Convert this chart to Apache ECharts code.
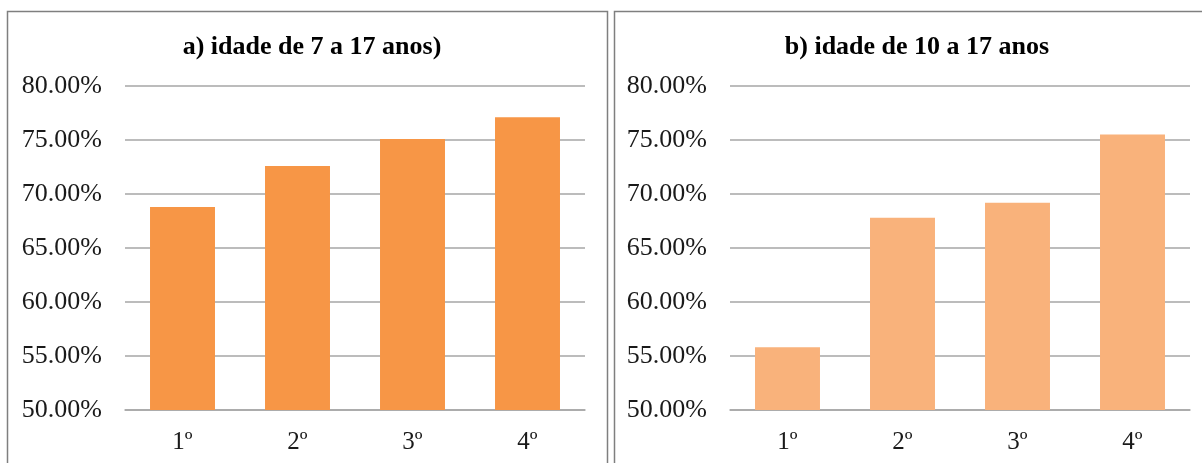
<!DOCTYPE html>
<html>
<head>
<meta charset="utf-8">
<script src="https://cdn.jsdelivr.net/npm/echarts@6/dist/echarts.min.js"></script>
<style>
  html, body { margin: 0; padding: 0; background: #fff; }
  #chart { width: 1202px; height: 463px; }
</style>
</head>
<body>
<div id="chart"></div>
<script>
// School grade categories
const categories = ['1º', '2º', '3º', '4º'];
// Percentages per grade, ages 7–17 (panel a) and 10–17 (panel b)
const valuesA = [68.8, 72.6, 75.1, 77.1];
const valuesB = [55.8, 67.8, 69.2, 75.5];
const titleA = 'a) idade de 7 a 17 anos)';
const titleB = 'b) idade de 10 a 17 anos';

const serif = '"Liberation Serif", "DejaVu Serif", serif';

function xAxis(gridIndex) {
  return {
    type: 'category', gridIndex, data: categories,
    axisLine: { show: true, lineStyle: { color: '#a6a6a6', width: 1.5 } },
    axisTick: { show: false },
    axisLabel: { fontFamily: serif, fontSize: 25, color: '#1a1a1a', margin: 20 }
  };
}
function yAxis(gridIndex) {
  return {
    type: 'value', gridIndex, min: 50, max: 80, interval: 5,
    axisLine: { show: false }, axisTick: { show: false },
    splitLine: { lineStyle: { color: '#a6a6a6', width: 1.5 } },
    axisLabel: {
      fontFamily: serif, fontSize: 26, color: '#1a1a1a', margin: 23,
      formatter: v => v.toFixed(2) + '%'
    }
  };
}

const chart = echarts.init(document.getElementById('chart'));
chart.setOption({
  animation: false,
  title: [
    { text: titleA, left: 307, top: 29, textAlign: 'center',
      textStyle: { fontFamily: serif, fontSize: 26, fontWeight: 'bold', color: '#000' } },
    { text: titleB, left: 912, top: 29, textAlign: 'center',
      textStyle: { fontFamily: serif, fontSize: 26, fontWeight: 'bold', color: '#000' } }
  ],
  grid: [
    { left: 125, width: 460, top: 86, height: 324 },
    { left: 730, width: 460, top: 86, height: 324 }
  ],
  xAxis: [xAxis(0), xAxis(1)],
  yAxis: [yAxis(0), yAxis(1)],
  series: [
    { type: 'bar', xAxisIndex: 0, yAxisIndex: 0, data: valuesA, barWidth: '56.5%',
      itemStyle: { color: '#F79646' } },
    { type: 'bar', xAxisIndex: 1, yAxisIndex: 1, data: valuesB, barWidth: '56.5%',
      itemStyle: { color: '#F9B27B' } }
  ],
  graphic: [
    { type: 'rect', shape: { x: 7.5, y: 11.5, width: 600, height: 470 },
      style: { fill: 'none', stroke: '#7f7f7f', lineWidth: 1.5 }, z: 10 },
    { type: 'rect', shape: { x: 614.5, y: 11.5, width: 600, height: 470 },
      style: { fill: 'none', stroke: '#7f7f7f', lineWidth: 1.5 }, z: 10 }
  ]
});
</script>
</body>
</html>
